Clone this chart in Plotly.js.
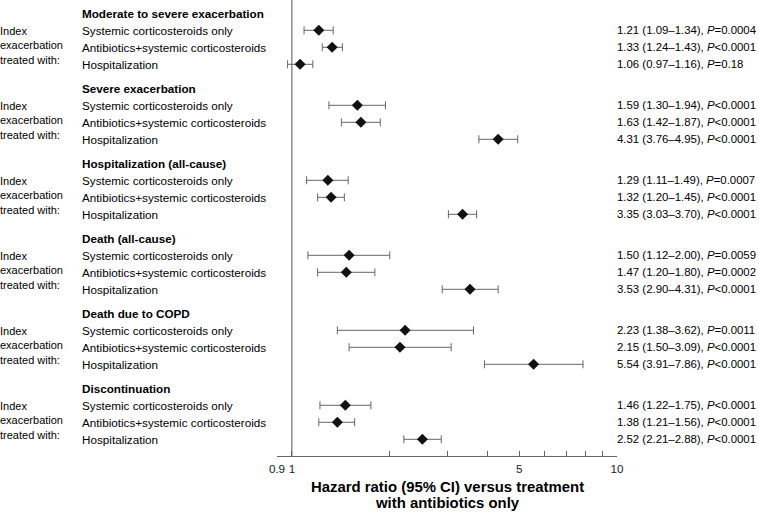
<!DOCTYPE html>
<html>
<head>
<meta charset="utf-8">
<script src="https://cdn.plot.ly/plotly-3.0.1.min.js"></script>
<style>
html,body{margin:0;padding:0;background:#fff;}
#chart{width:759px;height:512px;}
</style>
</head>
<body>
<div id="chart"></div>
<script>
// ---- data ----
const outcomes = ["Moderate to severe exacerbation","Severe exacerbation","Hospitalization (all-cause)","Death (all-cause)","Death due to COPD","Discontinuation"];
const treatments = ["Systemic corticosteroids only","Antibiotics+systemic corticosteroids","Hospitalization"];
const hr   = [1.21,1.33,1.06, 1.59,1.63,4.31, 1.29,1.32,3.35, 1.50,1.47,3.53, 2.23,2.15,5.54, 1.46,1.38,2.52];
const ciLo = [1.09,1.24,0.97, 1.30,1.42,3.76, 1.11,1.20,3.03, 1.12,1.20,2.90, 1.38,1.50,3.91, 1.22,1.21,2.21];
const ciHi = [1.34,1.43,1.16, 1.94,1.87,4.95, 1.49,1.45,3.70, 2.00,1.80,4.31, 3.62,3.09,7.86, 1.75,1.56,2.88];
const pText = ["=0.0004","<0.0001","=0.18", "<0.0001","<0.0001","<0.0001", "=0.0007","<0.0001","<0.0001", "=0.0059","=0.0002","<0.0001", "=0.0011","<0.0001","<0.0001", "<0.0001","<0.0001","<0.0001"];
const groupLabel = "Index<br>exacerbation<br>treated with:";
const tickVals = [0.9,1,2,3,4,5,6,7,8,9,10];
const tickText = ["0.9","1","","","","5","","","","","10"];
const axisTitleLines = ["Hazard ratio (95% CI) versus treatment","with antibiotics only"];

// ---- layout helpers ----
const FONT = "Liberation Sans, Arial, Helvetica, sans-serif";
const FS = 11.7;
const W = 759, H = 512;
const mL = 277, mR = 142, mT = 0, mB = 56;
const plotW = W - mL - mR, plotH = H - mT - mB;
const GROUP_STEP = 75, ROW_STEP = 17, FIRST = 13.3;
function rowY(g, i){ return FIRST + GROUP_STEP*g + ROW_STEP*i; } // i=0 header
function px2paperX(px){ return (px - mL)/plotW; }
function px2paperY(py){ return (mT + plotH - py)/plotH; }
const fmt = v => v.toFixed(2);

function ann(xpx, y, text, size, extra){
  return Object.assign({xref:'paper',yref:'y',x:px2paperX(xpx),y:y,text:text,showarrow:false,
    xanchor:'left',yanchor:'middle',align:'left',borderpad:0,borderwidth:0,
    font:{family:FONT,size:size,color:'#000'}}, extra||{});
}

const ys = [];
const annotations = [];
outcomes.forEach((o,g)=>{
  annotations.push(ann(82, rowY(g,0), '<b>'+o+'</b>', FS));
  annotations.push(ann(0, rowY(g,2)-2, groupLabel, 11));
  treatments.forEach((t,i)=>{
    const k = g*3+i;
    ys.push(rowY(g,i+1));
    annotations.push(ann(82, rowY(g,i+1), t, FS));
    annotations.push(ann(617, rowY(g,i+1),
      fmt(hr[k])+' ('+fmt(ciLo[k])+'–'+fmt(ciHi[k])+'), <i>P</i>'+pText[k].replace('<','&lt;'), 11.4));
  });
});
axisTitleLines.forEach((t,j)=>{
  annotations.push({xref:'paper',yref:'paper',x:0.5,y:px2paperY(487+15.5*j),text:'<b>'+t+'</b>',
    showarrow:false,xanchor:'center',yanchor:'middle',borderpad:0,
    font:{family:FONT,size:14.9,color:'#000'}});
});

const trace = {
  type:'scatter', mode:'markers',
  x: hr, y: ys,
  marker:{symbol:'diamond', size:8.5, color:'#111'},
  error_x:{type:'data', symmetric:false,
    array: hr.map((v,k)=>ciHi[k]-v),
    arrayminus: hr.map((v,k)=>v-ciLo[k]),
    color:'#666', thickness:1, width:4},
  hoverinfo:'skip', showlegend:false, cliponaxis:false
};

const layout = {
  width:W, height:H,
  margin:{l:mL, r:mR, t:mT, b:mB},
  paper_bgcolor:'#fff', plot_bgcolor:'#fff',
  font:{family:FONT, size:FS, color:'#222'},
  xaxis:{type:'log', range:[Math.log10(0.9), 1], tickvals:tickVals, ticktext:tickText,
    ticks:'inside', ticklen:5, tickcolor:'#666', tickwidth:1, ticklabelstandoff:2,
    showline:true, linecolor:'#666', linewidth:1, showgrid:false, zeroline:false,
    tickfont:{family:FONT, size:FS, color:'#222'}},
  yaxis:{range:[plotH,0], visible:false, showgrid:false, zeroline:false, fixedrange:true},
  shapes:[{type:'line', xref:'x', yref:'paper', x0:1, x1:1, y0:0, y1:1, line:{color:'#555', width:1}}],
  annotations: annotations
};

Plotly.newPlot('chart', [trace], layout, {displayModeBar:false, staticPlot:true});
</script>
</body>
</html>
